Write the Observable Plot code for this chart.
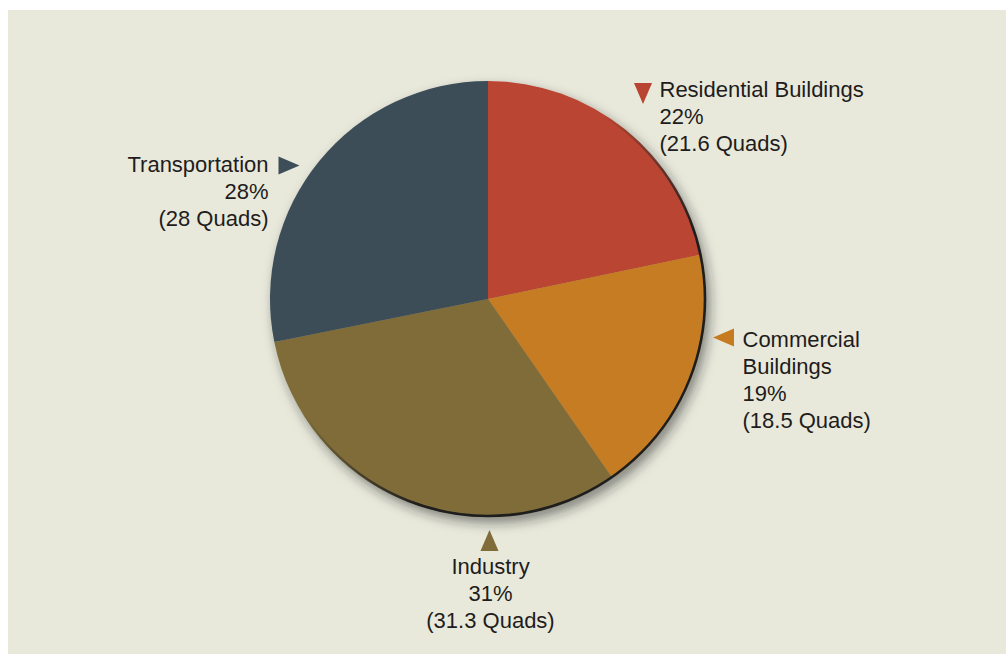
<!DOCTYPE html>
<html>
<head>
<meta charset="utf-8">
<script src="https://cdn.jsdelivr.net/npm/d3@7"></script>
<script src="https://cdn.jsdelivr.net/npm/@observablehq/plot@0.6"></script>
<style>
  html, body { margin: 0; padding: 0; background: #ffffff; }
  #chart { position: absolute; left: 8px; top: 10px; }
  #chart svg { background: #e8e9db; display: block; }
</style>
</head>
<body>
<div id="chart"></div>
<script>
// ---- data ----
const categories = ["Residential Buildings", "Commercial Buildings", "Industry", "Transportation"];
const quads = [21.6, 18.5, 31.3, 28];
const percents = [22, 19, 31, 28];
const labelNames = ["Residential Buildings", "Commercial\nBuildings", "Industry", "Transportation"];

// ---- styles ----
const sliceColors = ["#b94432", "#c67b21", "#7f6c38", "#3d4e59"];

// ---- layout (chart units) ----
const W = 998, H = 644;
const PIE = {cx: 480, cy: 289, r: 218};
const labelLayout = [
  {x: 651, y: 67.5, anchor: "start",  tx: 634.5, ty: 83,  dir: "down"},
  {x: 734, y: 317.5, anchor: "start", tx: 715,   ty: 327, dir: "left"},
  {x: 482, y: 544.5, anchor: "middle", tx: 481,  ty: 530, dir: "up"},
  {x: 260, y: 142.5, anchor: "end",   tx: 280.5, ty: 155, dir: "right"}
];

const rows = categories.map((c, i) => ({
  category: c,
  quads: quads[i],
  label: `${labelNames[i]}\n${percents[i]}%\n(${quads[i]} Quads)`,
  ...labelLayout[i]
}));

// triangle marker symbols
function triSymbol(rot) {
  return {
    draw(ctx, size) {
      const h = Math.sqrt(size / Math.PI) * 3;
      const b = h * 0.86;
      const pts = [[0, -h / 2], [b / 2, h / 2], [-b / 2, h / 2]].map(([x, y]) => {
        const a = rot * Math.PI / 180;
        return [x * Math.cos(a) - y * Math.sin(a), x * Math.sin(a) + y * Math.cos(a)];
      });
      ctx.moveTo(pts[0][0], pts[0][1]);
      ctx.lineTo(pts[1][0], pts[1][1]);
      ctx.lineTo(pts[2][0], pts[2][1]);
      ctx.closePath();
    }
  };
}
const dirRot = {up: 0, right: 90, down: 180, left: -90};

// pie drawn through Plot's scales
function pieMark(index, scales, values, dimensions, context) {
  const cx = scales.x(PIE.cx), cy = scales.y(PIE.cy);
  const r = Math.abs(scales.x(PIE.cx + PIE.r) - cx);
  const g = d3.create("svg:g");
  const defs = g.append("defs");
  const f = defs.append("filter").attr("id", "pieShadow")
    .attr("x", "-20%").attr("y", "-20%").attr("width", "140%").attr("height", "140%");
  f.append("feDropShadow").attr("dx", 4).attr("dy", 6).attr("stdDeviation", 6)
    .attr("flood-color", "#1a1a1a").attr("flood-opacity", 0.5);
  const lg = defs.append("linearGradient").attr("id", "rimGrad")
    .attr("x1", 0).attr("y1", 0).attr("x2", 1).attr("y2", 1);
  lg.append("stop").attr("offset", 0.42).attr("stop-color", "#1e1e1e").attr("stop-opacity", 0);
  lg.append("stop").attr("offset", 0.66).attr("stop-color", "#1e1e1e").attr("stop-opacity", 1);
  lg.append("stop").attr("offset", 1).attr("stop-color", "#1e1e1e").attr("stop-opacity", 1);

  const arcs = d3.pie().sort(null).value(d => d.quads)(rows);
  const arc = d3.arc().innerRadius(0).outerRadius(r);
  const pg = g.append("g").attr("transform", `translate(${cx},${cy})`);
  const sl = pg.append("g").attr("filter", "url(#pieShadow)");
  sl.selectAll("path").data(arcs).join("path")
    .attr("d", arc)
    .attr("fill", d => scales.color(d.data.category));
  pg.append("circle").attr("r", r - 1).attr("fill", "none")
    .attr("stroke", "url(#rimGrad)").attr("stroke-width", 2.6);
  return g.node();
}

const dirs = ["up", "down", "left", "right"];
const chart = Plot.plot({
  width: W,
  height: H,
  margin: 0,
  x: {domain: [0, W], range: [0, W], axis: null},
  y: {domain: [0, H], range: [0, H], axis: null},
  color: {domain: categories, range: sliceColors},
  style: {fontFamily: "'Liberation Sans', Arial, sans-serif", background: "#e8e9db"},
  marks: [
    pieMark,
    ...dirs.map(dir => Plot.dot(rows.filter(d => d.dir === dir), {
      x: "tx", y: "ty", r: 7, symbol: triSymbol(dirRot[dir]), fill: "category", stroke: "none"
    })),
    ...["start", "middle", "end"].map(a => Plot.text(rows.filter(d => d.anchor === a), {
      x: "x", y: "y", text: "label", textAnchor: a, lineAnchor: "top",
      lineHeight: 27 / 22, fontSize: 22, fill: "#1f1c1c"
    }))
  ]
});
document.getElementById("chart").appendChild(chart);
</script>
</body>
</html>
